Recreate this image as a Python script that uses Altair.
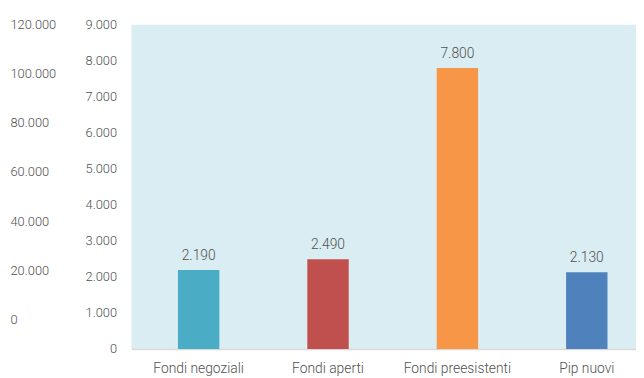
import altair as alt
import pandas as pd

categories = ["Fondi negoziali", "Fondi aperti", "Fondi preesistenti", "Pip nuovi"]
values = [2190, 2490, 7800, 2130]
labels = ["2.190", "2.490", "7.800", "2.130"]
colors = ["#4bacc6", "#c0504d", "#f79646", "#4f81bd"]
left_ticks = [0, 20000, 40000, 60000, 80000, 100000, 120000]
main_ticks = [0, 1000, 2000, 3000, 4000, 5000, 6000, 7000, 8000, 9000]

df = pd.DataFrame({"cat": categories, "val": values, "lab": labels})

FONT = "Roboto"
GREY = "#505050"
FS = 13
FW = 300

xenc = alt.X("cat:N", sort=categories, title=None,
             scale=alt.Scale(paddingInner=0.68, paddingOuter=0.29, align=0.62),
             axis=alt.Axis(labelAngle=0, ticks=False, domainColor="#d9d9d9",
                           domainWidth=1.5, labelPadding=13, labelFontSize=FS + 1,
                           labelColor=GREY, labelFont=FONT, labelFontWeight=FW))

yenc = alt.Y("val:Q", title=None,
             scale=alt.Scale(domain=[0, 9000], nice=False),
             axis=alt.Axis(values=main_ticks, grid=False, ticks=False, domain=False,
                           labelPadding=15, labelFontSize=FS, labelColor=GREY,
                           labelFont=FONT, labelFontWeight=FW, orient="left",
                           labelOverlap=False, labelBound=False, labelFlush=False,
                           labelExpr="replace(format(datum.value, ','), ',', '.')"))

bars = alt.Chart(df).mark_bar().encode(
    x=xenc,
    y=yenc,
    color=alt.Color("cat:N", sort=categories,
                    scale=alt.Scale(domain=categories, range=colors), legend=None),
)

text = alt.Chart(df).mark_text(dy=-14, fontSize=FS + 1, color=GREY, font=FONT,
                               fontWeight=FW).encode(
    x=xenc,
    y=yenc,
    text="lab:N",
)

sec = alt.Chart(pd.DataFrame({"v": left_ticks})).mark_point(opacity=0).encode(
    y=alt.Y("v:Q", title=None,
            scale=alt.Scale(domain=[-12040, 120000], nice=False, zero=False),
            axis=alt.Axis(values=left_ticks, grid=False, ticks=False, domain=False,
                          orient="left", labelAlign="left", labelPadding=123,
                          labelFontSize=FS, labelColor=GREY, labelFont=FONT,
                          labelFontWeight=FW, labelOverlap=False, labelFlush=False,
                          labelExpr="replace(format(datum.value, ','), ',', '.')")),
)

chart = alt.layer(alt.layer(bars, text), sec).resolve_scale(y="independent").properties(
    width=511, height=328.5,
    autosize=alt.AutoSizeParams(type="none"),
    padding={"left": 125, "top": 14.5, "right": 0, "bottom": 28},
).configure_view(fill="#daedf3", stroke=None)

chart.save("out.html", embed_options={"renderer": "svg", "actions": False})
